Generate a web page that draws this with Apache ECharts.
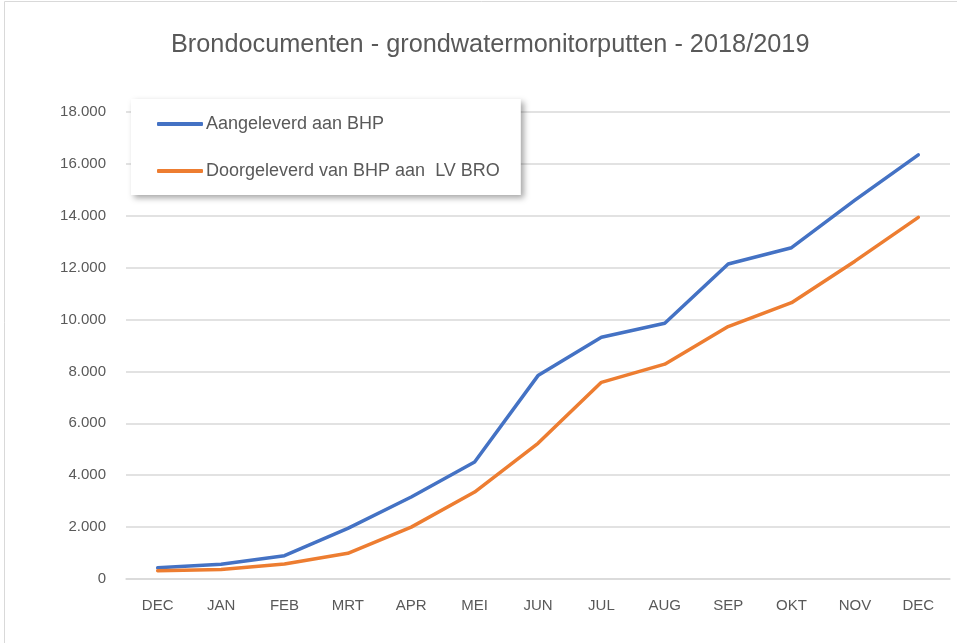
<!DOCTYPE html>
<html>
<head>
<meta charset="utf-8">
<script src="https://cdn.jsdelivr.net/npm/echarts@6/dist/echarts.min.js"></script>
<style>
  html, body { margin: 0; padding: 0; background: #fff; }
  #main { width: 957px; height: 643px; }
</style>
</head>
<body>
<div id="main"></div>
<script>
// data
const months = ['DEC', 'JAN', 'FEB', 'MRT', 'APR', 'MEI', 'JUN', 'JUL', 'AUG', 'SEP', 'OKT', 'NOV', 'DEC']
const aangeleverd = [430, 570, 900, 1950, 3160, 4510, 7840, 9320, 9860, 12140, 12770, 14600, 16350]
const doorgeleverd = [320, 370, 580, 990, 2000, 3350, 5230, 7580, 8280, 9730, 10650, 12250, 13940]
const yTicks = [0, 2000, 4000, 6000, 8000, 10000, 12000, 14000, 16000, 18000]

const font = 'Liberation Sans'
const textColor = '#595959'

const chart = echarts.init(document.getElementById('main'))

chart.setOption({
    animation: false,
    title: {
        text: 'Brondocumenten - grondwatermonitorputten - 2018/2019',
        left: 166,
        top: 28,
        textStyle: { fontFamily: font, fontSize: 25.3, fontWeight: 'normal', color: textColor }
    },
    graphic: [{
        type: 'rect',
        shape: { x: 4.5, y: 1.5, width: 960, height: 660 },
        style: { fill: 'none', stroke: '#d9d9d9', lineWidth: 1 },
        silent: true
    }],
    legend: {
        orient: 'vertical',
        left: 131,
        top: 99,
        padding: [16, 21, 15, 26],
        itemGap: 29,
        itemWidth: 46,
        itemHeight: 4,
        icon: 'roundRect',
        backgroundColor: '#fff',
        shadowColor: 'rgba(0,0,0,0.35)',
        shadowBlur: 6,
        shadowOffsetX: 3,
        shadowOffsetY: 3,
        textStyle: { fontFamily: font, fontSize: 18, color: textColor, padding: [0, 0, 0, -2] },
        data: ['Aangeleverd aan BHP', 'Doorgeleverd van BHP aan  LV BRO']
    },
    grid: { left: 126, right: 7, top: 112, bottom: 64 },
    xAxis: {
        type: 'category',
        data: months,
        boundaryGap: true,
        axisTick: { show: false },
        axisLine: { show: true, lineStyle: { color: '#d9d9d9', width: 1.5 } },
        axisLabel: { fontFamily: font, fontSize: 15, color: textColor, margin: 19 }
    },
    yAxis: {
        type: 'value',
        min: yTicks[0],
        max: yTicks[yTicks.length - 1],
        interval: 2000,
        axisLine: { show: false },
        axisTick: { show: false },
        splitLine: { lineStyle: { color: '#d9d9d9', width: 1.5 } },
        axisLabel: {
            fontFamily: font, fontSize: 15, color: textColor, margin: 20,
            formatter: v => v === 0 ? '0' : v.toLocaleString('de-DE').replace(',', '.')
        }
    },
    series: [
        {
            name: 'Aangeleverd aan BHP',
            type: 'line',
            symbol: 'none',
            data: aangeleverd,
            itemStyle: { color: '#4472C4' },
            lineStyle: { color: '#4472C4', width: 3.5, cap: 'round', join: 'round' }
        },
        {
            name: 'Doorgeleverd van BHP aan  LV BRO',
            type: 'line',
            symbol: 'none',
            data: doorgeleverd,
            itemStyle: { color: '#ED7D31' },
            lineStyle: { color: '#ED7D31', width: 3.5, cap: 'round', join: 'round' }
        }
    ]
})
</script>
</body>
</html>
